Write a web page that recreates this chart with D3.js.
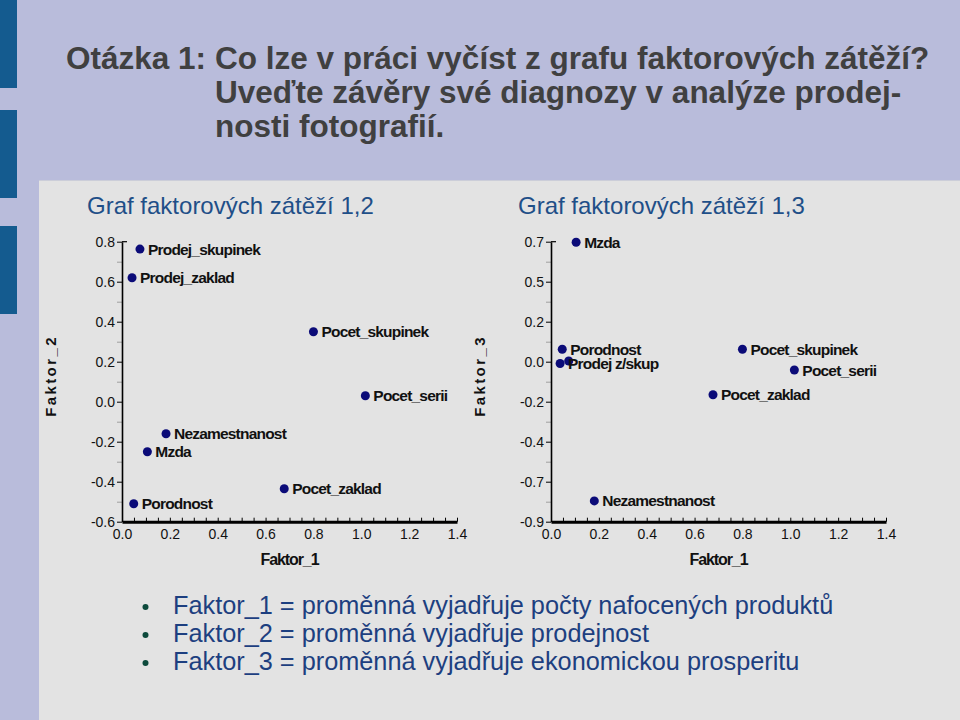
<!DOCTYPE html>
<html><head><meta charset="utf-8">
<script src="https://cdn.jsdelivr.net/npm/d3@7"></script>
<style>
body{margin:0;background:#b9bcdb;}
svg{display:block;}
text{font-family:"Liberation Sans",Arial,Helvetica,sans-serif;}
</style>
</head><body>
<svg id="c" width="960" height="720"></svg>
<script>
// ---------- data ----------
const questionLabel = "Otázka 1:";
const questionLines = [
  "Co lze v práci vyčíst z grafu faktorových zátěží?",
  "Uveďte závěry své diagnozy v analýze prodej-",
  "nosti fotografií."
];
const chartTitles = ["Graf faktorových zátěží 1,2", "Graf faktorových zátěží 1,3"];
const variables = ["Prodej_skupinek","Prodej_zaklad","Pocet_skupinek","Pocet_serii","Nezamestnanost","Mzda","Porodnost","Pocet_zaklad"];
const faktor1   = [0.075, 0.042, 0.800, 1.017, 0.184, 0.106, 0.049, 0.678];
const faktor2   = [0.763, 0.620, 0.350, 0.030, -0.160, -0.250, -0.510, -0.435];
const faktor1b  = [0.074, 0.038, 0.800, 1.017, 0.181, 0.105, 0.047, 0.677];
const faktor3   = [0.004, -0.010, 0.070, -0.047, -0.783, 0.672, 0.070, -0.186];
const labels12  = variables;
const labels13  = ["", "Prodej z/skup", "Pocet_skupinek", "Pocet_serii", "Nezamestnanost", "Mzda", "Porodnost", "Pocet_zaklad"];
const xTicks    = [0, 0.2, 0.4, 0.6, 0.8, 1.0, 1.2, 1.4];
const xTickLabels = ["0.0","0.2","0.4","0.6","0.8","1.0","1.2","1.4"];
const y2Ticks   = [-0.6, -0.4, -0.2, 0, 0.2, 0.4, 0.6, 0.8];
const y2TickLabels = ["-0.6","-0.4","-0.2","0.0","0.2","0.4","0.6","0.8"];
const y3Ticks   = [-0.9, -0.675, -0.45, -0.225, 0, 0.225, 0.45, 0.675];
const y3TickLabels = ["-0.9","-0.7","-0.4","-0.2","0.0","0.2","0.5","0.7"];
const xAxisTitle = "Faktor_1";
const yAxisTitles = ["Faktor_2", "Faktor_3"];
const bulletLines = [
  "Faktor_1 = proměnná vyjadřuje počty nafocených produktů",
  "Faktor_2 = proměnná vyjadřuje prodejnost",
  "Faktor_3 = proměnná vyjadřuje ekonomickou prosperitu"
];

// ---------- drawing ----------
const svg = d3.select("#c");
svg.append("rect").attr("width",960).attr("height",720).attr("fill","#b9bcdb");
// left decorative bars
[[0,88],[110,198],[226,314]].forEach(([a,b])=>{
  svg.append("rect").attr("x",0).attr("y",a).attr("width",17).attr("height",b-a).attr("fill","#145b8f");
});
// content panel
svg.append("rect").attr("x",39).attr("y",180).attr("width",921).attr("height",540).attr("fill","#e3e3e3");
svg.append("line").attr("x1",39).attr("x2",960).attr("y1",180.5).attr("y2",180.5).attr("stroke","#ccced9").attr("stroke-width",1);

// question text
const qFont = 31.5;
svg.append("text").attr("x",66).attr("y",69).attr("font-size",qFont).attr("font-weight","bold").attr("fill","#404040").text(questionLabel);
questionLines.forEach((t,i)=>{
  svg.append("text").attr("x",215).attr("y",69+i*34).attr("font-size",qFont).attr("font-weight","bold").attr("fill","#404040").text(t);
});

function drawChart(cfg){
  const g = svg.append("g");
  const x = d3.scaleLinear().domain([0,1.4]).range([cfg.x0, cfg.x1]);
  const y = d3.scaleLinear().domain(cfg.yDomain).range([cfg.yBot, cfg.yTop]);

  g.append("text").attr("x",cfg.titleX).attr("y",214).attr("font-size",24).attr("fill","#1f4f88").text(cfg.title);

  // y minor ticks (midpoints)
  const mids = d3.pairs(cfg.yTicks).map(([a,b])=>(a+b)/2);
  g.append("g").attr("transform",`translate(${cfg.x0},0)`)
    .call(d3.axisLeft(y).tickValues(mids).tickSize(5).tickFormat(""))
    .call(s=>{s.select(".domain").remove(); s.selectAll("line").attr("stroke","#a0a0a0").attr("stroke-width",1);});
  // y major axis
  const ya = g.append("g").attr("transform",`translate(${cfg.x0},0)`)
    .call(d3.axisLeft(y).tickValues(cfg.yTicks).tickSize(5).tickSizeOuter(0).tickPadding(2).tickFormat((d,i)=>cfg.yLabels[i]));
  ya.select(".domain").attr("stroke","#000").attr("stroke-width",1.6);
  ya.selectAll("line").attr("stroke","#000").attr("stroke-width",1);
  ya.selectAll("text").attr("font-size",14).attr("fill","#111");
  // top cap
  g.append("line").attr("x1",cfg.x0).attr("x2",cfg.x0+5).attr("y1",y(cfg.yTicks[cfg.yTicks.length-1])).attr("y2",y(cfg.yTicks[cfg.yTicks.length-1])).attr("stroke","#000").attr("stroke-width",1.2);

  // x minor ticks (inward)
  const minor = d3.range(0, 1.4001, 0.05);
  g.append("g").attr("transform",`translate(0,${cfg.yBot})`)
    .call(d3.axisBottom(x).tickValues(minor).tickSize(-4).tickFormat(""))
    .call(s=>{s.select(".domain").remove(); s.selectAll("line").attr("stroke","#000").attr("stroke-width",1);});
  const xa = g.append("g").attr("transform",`translate(0,${cfg.yBot})`)
    .call(d3.axisBottom(x).tickValues(xTicks).tickSize(0).tickPadding(7).tickFormat((d,i)=>xTickLabels[i]));
  xa.select(".domain").attr("stroke","#000").attr("stroke-width",3);
  xa.selectAll("text").attr("font-size",14).attr("fill","#111");

  // axis titles
  g.append("text").attr("x",(cfg.x0+cfg.x1)/2 - 0).attr("y",565).attr("text-anchor","middle")
    .attr("font-size",16).attr("font-weight","bold").attr("letter-spacing",-1.1).attr("fill","#111").text(xAxisTitle);
  g.append("text").attr("transform",`translate(${cfg.yTitleX},376) rotate(-90)`).attr("text-anchor","middle")
    .attr("font-size",15).attr("font-weight","bold").attr("letter-spacing",2.4).attr("fill","#111").text(cfg.yTitle);

  // points
  const pts = cfg.xs.map((v,i)=>({x:v, y:cfg.ys[i], label:cfg.labels[i]}));
  g.selectAll("circle.pt").data(pts).join("circle").attr("class","pt")
    .attr("cx",d=>x(d.x)).attr("cy",d=>y(d.y)).attr("r",4.5).attr("fill","#0b0b78");
  g.selectAll("text.lbl").data(pts.filter(d=>d.label)).join("text").attr("class","lbl")
    .attr("x",d=>x(d.x)+8).attr("y",d=>y(d.y)+5.5)
    .attr("font-size",15.5).attr("font-weight","bold").attr("letter-spacing",-0.8).attr("fill","#111").text(d=>d.label);
}

drawChart({title:chartTitles[0], titleX:87, x0:122, x1:457, yTop:241.7, yBot:521.7,
  yDomain:[-0.6,0.8], yTicks:y2Ticks, yLabels:y2TickLabels, yTitle:yAxisTitles[0], yTitleX:56,
  xs:faktor1, ys:faktor2, labels:labels12});
drawChart({title:chartTitles[1], titleX:518, x0:551, x1:886, yTop:241.7, yBot:521.7,
  yDomain:[-0.9,0.675], yTicks:y3Ticks, yLabels:y3TickLabels, yTitle:yAxisTitles[1], yTitleX:485,
  xs:faktor1b, ys:faktor3, labels:labels13});

// bullets
bulletLines.forEach((t,i)=>{
  svg.append("circle").attr("cx",145.5).attr("cy",607+i*28).attr("r",3).attr("fill","#0d4a3c");
  svg.append("text").attr("x",173).attr("y",614+i*28).attr("font-size",25.3).attr("fill","#1d3f80").text(t);
});
</script>
</body></html>
